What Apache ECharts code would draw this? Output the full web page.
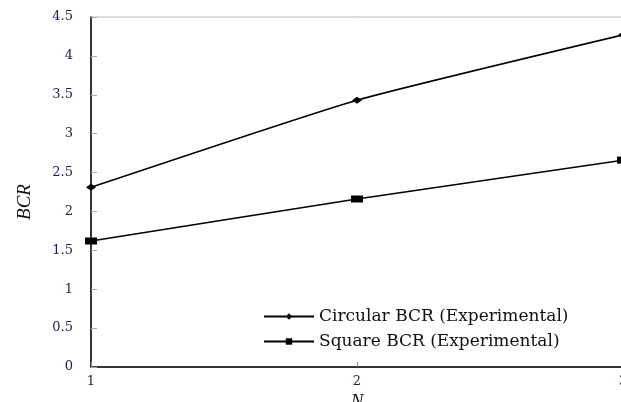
<!DOCTYPE html>
<html><head><meta charset="utf-8">
<script src="https://cdn.jsdelivr.net/npm/echarts@6/dist/echarts.min.js"></script>
<style>html,body{margin:0;padding:0;background:#fff}#c{width:621px;height:402px}</style>
</head><body><div id="c"></div>
<script>
const xValues = [1, 2, 3];
const circularBCR = [2.31, 3.43, 4.27];
const squareBCR = [1.62, 2.16, 2.66];
const seriesNames = ['Circular BCR (Experimental)', 'Square BCR (Experimental)'];

const chart = echarts.init(document.getElementById('c'));
const font = 'DejaVu Serif';
const lblColor = '#1c1c55';
chart.setOption({
  animation: false,
  grid: {left: 91, top: 17, right: -2, bottom: 35, show: true, borderColor: '#bbb', borderWidth: 1,
         containLabel: false, outerBoundsMode: 'none'},
  legend: {
    left: 258, top: 303, orient: 'vertical', itemWidth: 50, itemHeight: 8, itemGap: 8,
    textStyle: {fontFamily: font, fontSize: 17, color: '#111'},
    data: seriesNames
  },
  xAxis: {
    type: 'value', min: 1, max: 3, interval: 1,
    name: 'N', nameLocation: 'middle', nameGap: 22,
    nameTextStyle: {fontFamily: 'Liberation Serif', fontStyle: 'italic', fontSize: 19, color: '#111'},
    axisLine: {lineStyle: {color: '#000', width: 1.5}},
    axisTick: {inside: true, length: 5, lineStyle: {color: '#888'}},
    axisLabel: {fontFamily: font, fontSize: 13, color: lblColor, margin: 8},
    splitLine: {show: false}
  },
  yAxis: {
    type: 'value', min: 0, max: 4.5, interval: 0.5,
    name: 'BCR', nameLocation: 'middle', nameGap: 57,
    nameTextStyle: {fontFamily: 'Liberation Serif', fontStyle: 'italic', fontSize: 19, color: '#111', padding: [0, 20, 0, 0]},
    axisLine: {show: true, lineStyle: {color: '#000', width: 1.5}},
    axisTick: {show: true, inside: true, length: 6, lineStyle: {color: '#aaa'}},
    axisLabel: {fontFamily: font, fontSize: 13, color: lblColor, margin: 18},
    splitLine: {show: false}
  },
  series: [
    {name: seriesNames[0], type: 'line', data: xValues.map((x, i) => [x, circularBCR[i]]),
     symbol: 'diamond', symbolSize: [10, 7], smooth: 0.15,
     itemStyle: {color: '#000'}, lineStyle: {color: '#000', width: 1.5}},
    {name: seriesNames[1], type: 'line', data: xValues.map((x, i) => [x, squareBCR[i]]),
     symbol: 'rect', symbolSize: [12, 7], smooth: 0.1,
     itemStyle: {color: '#000'}, lineStyle: {color: '#000', width: 1.5}}
  ]
});
</script></body></html>
